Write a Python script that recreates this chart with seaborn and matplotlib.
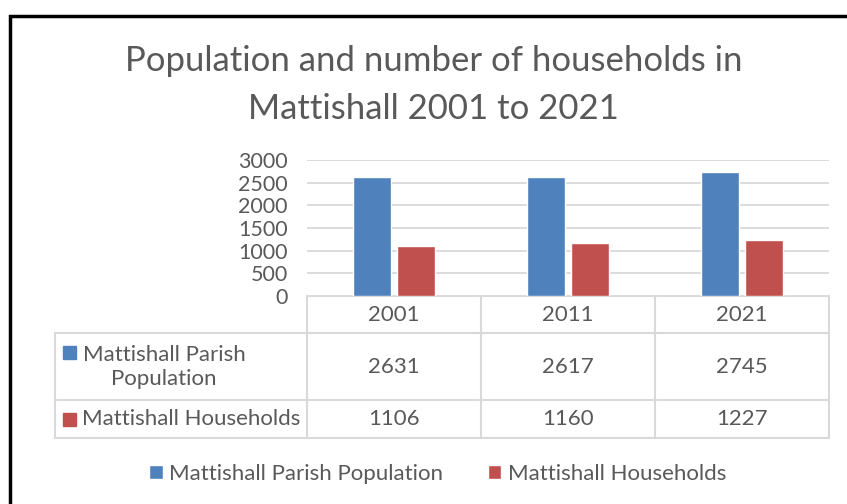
import matplotlib
matplotlib.use('Agg')
import matplotlib.pyplot as plt
import seaborn as sns
import pandas as pd
from matplotlib.patches import Rectangle

years = ['2001', '2011', '2021']
series = ['Mattishall Parish Population', 'Mattishall Households']
population = [2631, 2617, 2745]
households = [1106, 1160, 1227]
row_labels = ['Mattishall Parish\nPopulation', 'Mattishall Households']
yticks = [0, 500, 1000, 1500, 2000, 2500, 3000]

colors = ['#4F81BD', '#C0504D']
txt = '#595959'
grid = '#D9D9D9'

sns.set_style('white')
plt.rcParams['font.family'] = ['Lato', 'DejaVu Sans']

df = pd.DataFrame({
    'year': years * 2,
    'series': [series[0]] * 3 + [series[1]] * 3,
    'value': population + households,
})

W, H = 847, 504
fig = plt.figure(figsize=(W / 100, H / 100), dpi=100)

# pixel helper
def box(x0, y0, x1, y1):
    return [x0 / W, 1 - y1 / H, (x1 - x0) / W, (y1 - y0) / H]

# overlay for frame + table
ov = fig.add_axes([0, 0, 1, 1])
ov.set_xlim(0, W)
ov.set_ylim(H, 0)
ov.axis('off')

# bar area
ax = fig.add_axes(box(307, 160, 829, 296))
sns.barplot(data=df, x='year', y='value', hue='series', palette=colors,
            width=0.5, gap=0.13, ax=ax, zorder=3, saturation=1)
ax.set_xlim(-0.5, 2.5)
ax.set_ylim(0, 3000)
ax.set_yticks(yticks)
ax.set_yticklabels([str(t) for t in yticks], fontsize=15.5, color=txt)
ax.tick_params(axis='y', length=0, pad=14)
ax.set_xticks([])
ax.set_xlabel('')
ax.set_ylabel('')
ax.grid(axis='y', color=grid, lw=1.3, zorder=0)
for s in ax.spines.values():
    s.set_visible(False)
handles, labels = ax.get_legend_handles_labels()
ax.get_legend().remove()

# title
fig.text(0.512, 1 - 61 / H, 'Population and number of households in',
         ha='center', va='center', fontsize=25, color=txt)
fig.text(0.512, 1 - 109 / H, 'Mattishall 2001 to 2021',
         ha='center', va='center', fontsize=25, color=txt)

# outer frame (left + top only visible)
ov.plot([9.5, 9.5, W + 5], [H + 5, 16, 16], color='black', lw=2.5,
        solid_joinstyle='miter')

# data table
col_edges = [307, 481, 655, 829]
row_edges = [296, 333, 400, 438]
lw = 1.5
ov.plot([307, 829], [296, 296], color=grid, lw=lw)
for y in row_edges[1:]:
    ov.plot([55, 829], [y, y], color=grid, lw=lw)
for x in col_edges:
    ov.plot([x, x], [296, 438], color=grid, lw=lw)
ov.plot([55, 55], [333, 438], color=grid, lw=lw)

fs = 16
for i, yr in enumerate(years):
    cx = (col_edges[i] + col_edges[i + 1]) / 2
    ov.text(cx, 315, yr, ha='center', va='center', fontsize=fs, color=txt)
    ov.text(cx, 367, str(population[i]), ha='center', va='center', fontsize=fs, color=txt)
    ov.text(cx, 419, str(households[i]), ha='center', va='center', fontsize=fs, color=txt)

ov.add_patch(Rectangle((63, 346), 13, 13, color=colors[0]))
ov.text(164, 367, row_labels[0], ha='center', va='center', fontsize=fs,
        color=txt, linespacing=1.25)
ov.add_patch(Rectangle((63, 413), 13, 13, color=colors[1]))
ov.text(82, 419, row_labels[1], ha='left', va='center', fontsize=fs, color=txt)

fig.legend(handles, labels, loc='center', bbox_to_anchor=(0.517, 1 - 474 / H),
           ncol=2, frameon=False, fontsize=fs, labelcolor=txt,
           handlelength=0.6, handleheight=0.6, handletextpad=0.3,
           columnspacing=2.0)

fig.savefig('out.png', dpi=100)
